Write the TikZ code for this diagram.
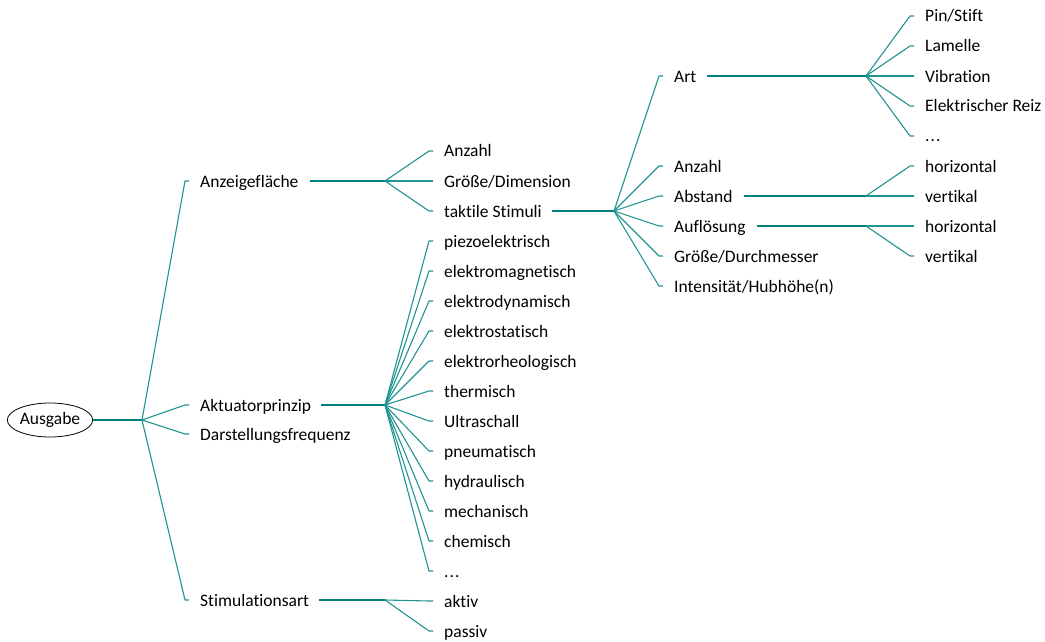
\documentclass[tikz,border=0pt]{standalone}
\usepackage{fontspec}
\setmainfont{Carlito}[Ligatures={NoCommon,NoRare,NoContextual}]
\usetikzlibrary{shapes.geometric}
\definecolor{tealA}{RGB}{0,128,126}
\definecolor{tealB}{RGB}{32,148,144}
\tikzset{
  lbl/.style={anchor=west,inner sep=0pt,text height=12pt,text depth=0pt,font=\fontsize{17.5}{20}\selectfont},
  trunk/.style={draw=tealA,line width=2pt},
  twig/.style={draw=tealB,line width=1.1pt},
  rootnode/.style={ellipse,draw=black,line width=0.8pt,minimum width=82pt,minimum height=34pt,inner sep=0pt,font=\fontsize{17.5}{20}\selectfont}
}
\begin{document}
\begin{tikzpicture}[x=1pt,y=-1pt]
\useasboundingbox (0,0) rectangle (1045,642);
\node[rootnode] (aus) at (50,420) {Ausgabe};
% level 1
\node[lbl] (anz) at (200,181) {Anzeigefläche};
\node[lbl] (akt) at (200,405) {Aktuatorprinzip};
\node[lbl] (dar) at (200,434) {Darstellungsfrequenz};
\node[lbl] (sti) at (200,600) {Stimulationsart};
% level 2
\node[lbl] (a1) at (444,151) {Anzahl};
\node[lbl] (a2) at (444,181) {Größe/Dimension};
\node[lbl] (a3) at (444,211) {taktile Stimuli};
\node[lbl] (p1) at (444,241) {piezoelektrisch};
\node[lbl] (p2) at (444,271) {elektromagnetisch};
\node[lbl] (p3) at (444,301) {elektrodynamisch};
\node[lbl] (p4) at (444,331) {elektrostatisch};
\node[lbl] (p5) at (444,361) {elektrorheologisch};
\node[lbl] (p6) at (444,391) {thermisch};
\node[lbl] (p7) at (444,421) {Ultraschall};
\node[lbl] (p8) at (444,451) {pneumatisch};
\node[lbl] (p9) at (444,481) {hydraulisch};
\node[lbl] (p10) at (444,511) {mechanisch};
\node[lbl] (p11) at (444,541) {chemisch};
\node[lbl] (p12) at (444,571) {.\kern1pt.\kern1pt.};
\node[lbl] (s1) at (444,601) {aktiv};
\node[lbl] (s2) at (444,631) {passiv};
% level 3
\node[lbl] (t1) at (674,76) {Art};
\node[lbl] (t2) at (674,166) {Anzahl};
\node[lbl] (t3) at (674,196) {Abstand};
\node[lbl] (t4) at (674,226) {Auflösung};
\node[lbl] (t5) at (674,256) {Größe/Durchmesser};
\node[lbl] (t6) at (674,286) {Intensität/Hubhöhe(n)};
% level 4
\node[lbl] (r1) at (925,16) {Pin/Stift};
\node[lbl] (r2) at (925,46) {Lamelle};
\node[lbl] (r3) at (925,76) {Vibration};
\node[lbl] (r4) at (925,106) {Elektrischer Reiz};
\node[lbl] (r5) at (925,136) {.\kern1pt.\kern1pt.};
\node[lbl] (h1) at (925,166) {horizontal};
\node[lbl] (v1) at (925,196) {vertikal};
\node[lbl] (h2) at (925,226) {horizontal};
\node[lbl] (v2) at (925,256) {vertikal};
% branch points
\coordinate (b0) at (142,420);
\coordinate (b1) at (385,181);
\coordinate (b2) at (385,405);
\coordinate (b3) at (385,600);
\coordinate (b4) at (614,211);
\coordinate (b5) at (866,76);
\coordinate (b6) at (866,196);
\coordinate (b7) at (866,226);
% trunks
\draw[trunk] (aus.east) -- (b0);
\draw[trunk] ([xshift=11pt]anz.east) -- (b1);
\draw[trunk] ([xshift=10pt]akt.east) -- (b2);
\draw[trunk] ([xshift=10pt]sti.east) -- (b3);
\draw[trunk] ([xshift=10pt]a3.east) -- (b4);
\draw[trunk] ([xshift=11pt]t1.east) -- (b5);
\draw[trunk] ([xshift=11pt]t3.east) -- (b6);
\draw[trunk] ([xshift=11pt]t4.east) -- (b7);
% twigs
\foreach \b/\kids in {b0/{anz,akt,dar,sti}, b1/{a1,a2,a3}, b2/{p1,p2,p3,p4,p5,p6,p7,p8,p9,p10,p11,p12}, b3/{s1,s2}, b4/{t1,t2,t3,t4,t5,t6}, b5/{r1,r2,r3,r4,r5}, b6/{h1,v1}, b7/{h2,v2}}{
  \foreach \k in \kids {
    \draw[twig,line join=round] (\b) -- ([xshift=-15pt]\k.west) -- ([xshift=-11pt]\k.west);
  }
}
\end{tikzpicture}
\end{document}
